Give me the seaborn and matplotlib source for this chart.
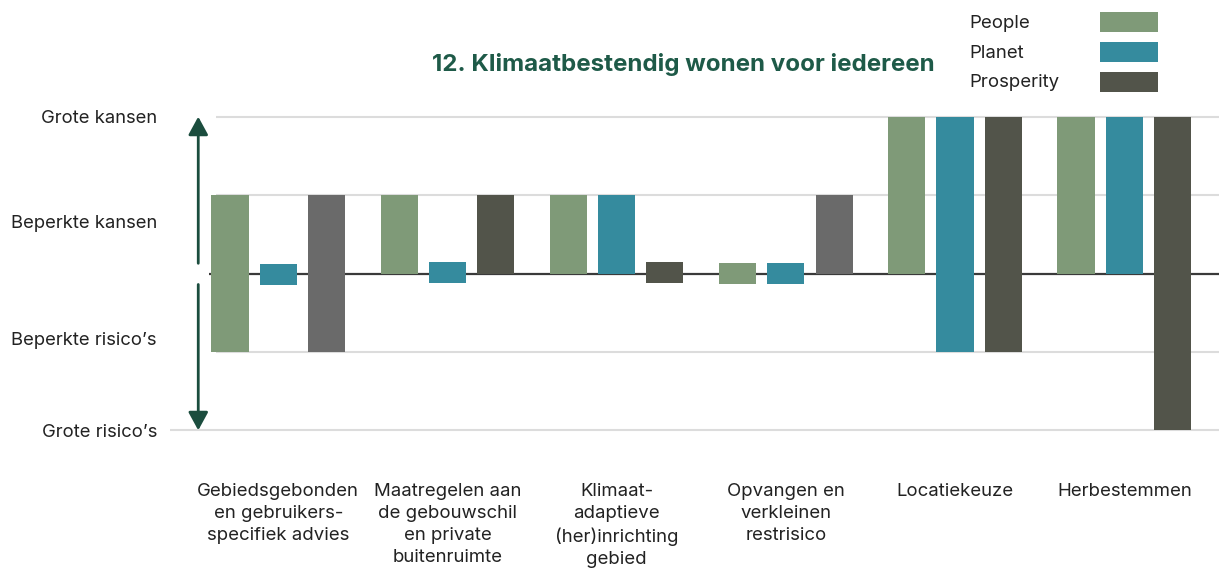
import pandas as pd
import matplotlib.pyplot as plt
import seaborn as sns
from matplotlib.patches import Rectangle

# Categories (x axis) and series
categories = [
    "Gebiedsgebonden\nen gebruikers-\nspecifiek advies",
    "Maatregelen aan\nde gebouwschil\nen private\nbuitenruimte",
    "Klimaat-\nadaptieve\n(her)inrichting\ngebied",
    "Opvangen en\nverkleinen\nrestrisico",
    "Locatiekeuze",
    "Herbestemmen",
]
series = ["People", "Planet", "Prosperity"]

# Floating bars: top and bottom of each bar (2 = grote kansen, -2 = grote risico's)
people_top = [1, 1, 1, 0.14, 2, 2]
people_bottom = [-1, 0, 0, -0.14, 0, 0]
planet_top = [0.12, 0.15, 1, 0.14, 2, 2]
planet_bottom = [-0.15, -0.12, 0, -0.14, -1, 0]
prosperity_top = [1, 1, 0.15, 1, 2, 2]
prosperity_bottom = [-1, 0, -0.12, 0, -1, -2]

scale_ticks = [2, 0.66, -0.83, -2]
scale_labels = ["Grote kansen", "Beperkte kansen", "Beperkte risico\u2019s", "Grote risico\u2019s"]

title = "12. Klimaatbestendig wonen voor iedereen"

sns.set_theme(style="white")
plt.rcParams['font.family'] = ['Inter', 'DejaVu Sans']

rows = []
for name, tops, bottoms in [("People", people_top, people_bottom),
                            ("Planet", planet_top, planet_bottom),
                            ("Prosperity", prosperity_top, prosperity_bottom)]:
    for cat, t, b in zip(categories, tops, bottoms):
        rows.append({"categorie": cat, "serie": name,
                     "boven": max(t, 0), "onder": min(b, 0)})
df = pd.DataFrame(rows)

palette = {"People": "#7f9a78", "Planet": "#358b9e", "Prosperity": "#52544a"}
light_grey = "#6a6a6a"

W, H = 1219, 571
fig = plt.figure(figsize=(W / 100, H / 100), dpi=100)
ax = fig.add_axes([170 / W, (H - 446) / H, 1 - 170 / W, (446 - 101) / H])

# positive part and negative part of each bar, same colour so they merge
for col in ["boven", "onder"]:
    sns.barplot(data=df, x="categorie", y=col, hue="serie", order=categories,
                hue_order=series, palette=palette, width=0.855, gap=0.23,
                linewidth=0, saturation=1, legend=False, ax=ax, zorder=3)

# two prosperity bars are drawn in a plain grey in the original
for idx in (2, 5):
    for j in (0, 3):
        ax.containers[idx][j].set_facecolor(light_grey)

ax.set_xlim(-0.64, 5.56)
ax.set_ylim(-2.2, 2.2)

# grid lines and zero line
ax.hlines([2, 1, -1], -0.37, 5.56, color="#dcdcdc", lw=1.5, zorder=1)
ax.hlines(-2, -0.64, 5.56, color="#dcdcdc", lw=1.5, zorder=1)
ax.hlines(0, -0.41, 5.56, color="#3a3a3a", lw=1.6, zorder=2)

# double arrow, broken at the zero line
arrow_kw = dict(arrowstyle="-|>,head_length=0.55,head_width=0.3", color="#1b4d3e",
                lw=2, mutation_scale=20, shrinkA=0, shrinkB=0)
ax.annotate("", xy=(-0.473, 2), xytext=(-0.473, 0.13), arrowprops=arrow_kw)
ax.annotate("", xy=(-0.473, -2), xytext=(-0.473, -0.14), arrowprops=arrow_kw)

ax.set_yticks(scale_ticks, labels=scale_labels)
ax.tick_params(axis="y", length=0, pad=9.4, labelsize=13.3, labelcolor="#222222")
ax.set_xticks(range(len(categories)), labels=categories)
ax.tick_params(axis="x", length=0, pad=27, labelsize=13.4, labelcolor="#222222")
for lbl in ax.get_xticklabels():
    lbl.set_linespacing(1.37)
ax.set_xlabel("")
ax.set_ylabel("")
sns.despine(ax=ax, left=True, bottom=True)

fig.text(683 / W, 1 - 65 / H, title, ha="center", va="center",
         fontsize=17.4, fontweight="bold", color="#1e5a48")

# legend: label on the left, swatch on the right
for i, name in enumerate(series):
    y = 23 + 30 * i
    fig.text(969 / W, 1 - y / H, name, ha="left", va="center", fontsize=13.4, color="#222222")
    fig.add_artist(Rectangle((1100 / W, 1 - (y + 9) / H), 58 / W, 20 / H,
                             transform=fig.transFigure, color=palette[name], lw=0))

fig.savefig("out.png", dpi=100)
